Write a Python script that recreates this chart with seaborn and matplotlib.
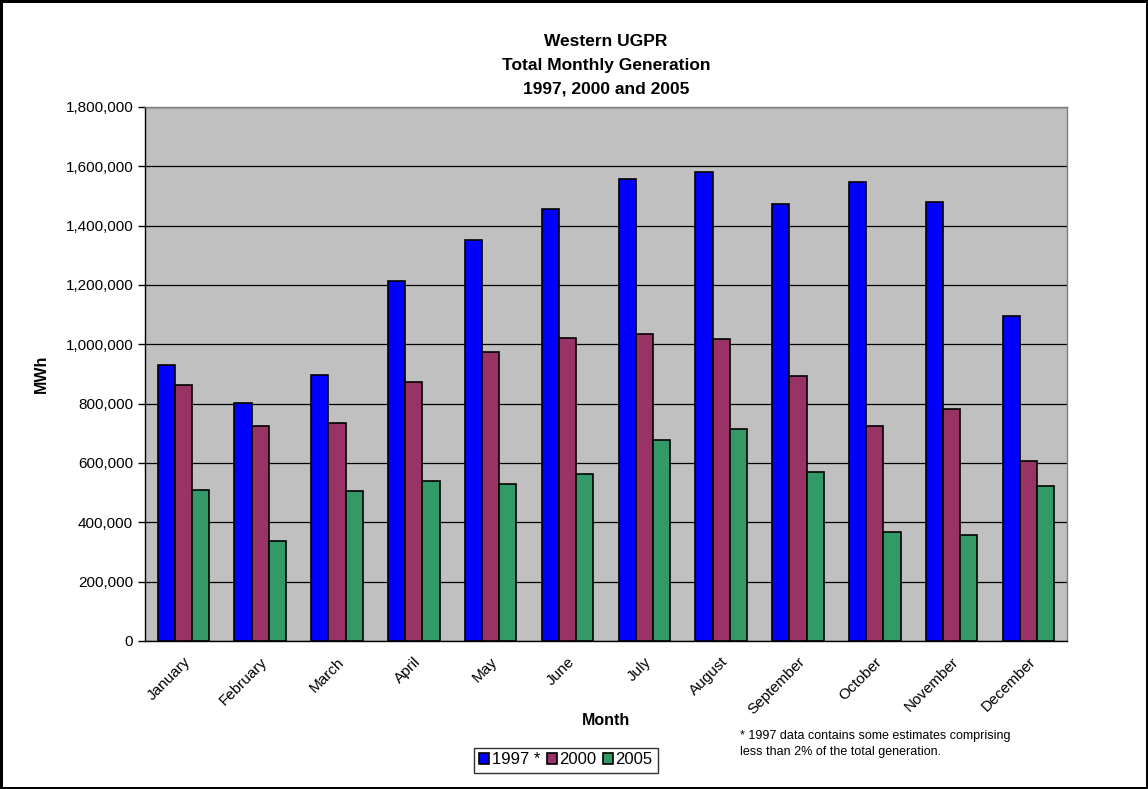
import seaborn as sns
import pandas as pd
import matplotlib.pyplot as plt
from matplotlib.ticker import FuncFormatter, FixedLocator

months = ['January', 'February', 'March', 'April', 'May', 'June', 'July',
          'August', 'September', 'October', 'November', 'December']
series_names = ['1997 *', '2000', '2005']
gen_1997 = [930000, 802000, 897000, 1213000, 1350000, 1455000, 1557000,
            1582000, 1474000, 1548000, 1481000, 1097000]
gen_2000 = [863000, 725000, 734000, 874000, 973000, 1021000, 1034000,
            1018000, 893000, 726000, 782000, 607000]
gen_2005 = [509000, 336000, 505000, 538000, 530000, 564000, 678000,
            714000, 571000, 368000, 356000, 524000]
colors = ['#0000FF', '#993366', '#339966']

df = pd.DataFrame({'Month': months * 3,
                   'Series': [s for s in series_names for _ in months],
                   'MWh': gen_1997 + gen_2000 + gen_2005})

sns.set_style("white")
plt.rcParams['font.family'] = ['Liberation Sans', 'DejaVu Sans']
plt.rcParams['text.color'] = 'black'
plt.rcParams['axes.labelcolor'] = 'black'
plt.rcParams['xtick.color'] = 'black'
plt.rcParams['ytick.color'] = 'black'

fig = plt.figure(figsize=(11.48, 7.89), dpi=100)
fig.patch.set_edgecolor('black')
fig.patch.set_linewidth(2.5)
ax = fig.add_axes([0.1263, 0.1876, 0.8031, 0.6768])
ax.set_facecolor('#C0C0C0')

sns.barplot(data=df, x='Month', y='MWh', hue='Series', palette=colors,
            width=0.67, edgecolor='black', linewidth=1.2, saturation=1,
            ax=ax, zorder=3)

ax.set_ylim(0, 1800000)
ax.set_xlim(-0.5, 11.5)
ax.set_yticks(range(0, 1800001, 200000))
ax.yaxis.set_major_formatter(FuncFormatter(lambda v, p: f'{int(v):,}'))
ax.yaxis.grid(True, color='black', linewidth=0.9, zorder=0)
ax.set_axisbelow(True)

ax.xaxis.set_minor_locator(FixedLocator([i - 0.5 for i in range(13)]))
ax.tick_params(axis='x', which='major', length=0, pad=10)
ax.tick_params(axis='x', which='minor', length=5, width=1, color='black', direction='out')
ax.tick_params(axis='y', length=5, width=1, color='black', direction='out', left=True)
ax.set_xticks(range(12))
ax.set_xticklabels(months, rotation=45, ha='right', rotation_mode='anchor', fontsize=11)
for lbl in ax.get_yticklabels():
    lbl.set_fontsize(11)

for side in ['left', 'bottom']:
    ax.spines[side].set_color('black')
    ax.spines[side].set_linewidth(1)
for side in ['top', 'right']:
    ax.spines[side].set_color('#808080')
    ax.spines[side].set_linewidth(1)

ax.set_xlabel('Month', fontsize=11.5, fontweight='bold', labelpad=-3)
ax.set_ylabel('MWh', fontsize=11.5, fontweight='bold', labelpad=12)
ax.set_title('Western UGPR\nTotal Monthly Generation\n1997, 2000 and 2005',
             fontsize=12.5, fontweight='bold', linespacing=1.7, pad=10)

leg = ax.legend(loc='center', bbox_to_anchor=(566 / 1148, 1 - 760 / 789),
                bbox_transform=fig.transFigure, ncol=3, frameon=True,
                fontsize=12, handlelength=0.6, handleheight=0.6,
                handletextpad=0.15, columnspacing=0.4, borderpad=0.3,
                borderaxespad=0, fancybox=False, edgecolor='black')
leg.get_frame().set_linewidth(1)

fig.text(740 / 1148, 1 - 744 / 789,
         '* 1997 data contains some estimates comprising\nless than 2% of the total generation.',
         fontsize=9, va='center', ha='left', linespacing=1.35)

fig.savefig('out.png', dpi=100, edgecolor=fig.get_edgecolor())
